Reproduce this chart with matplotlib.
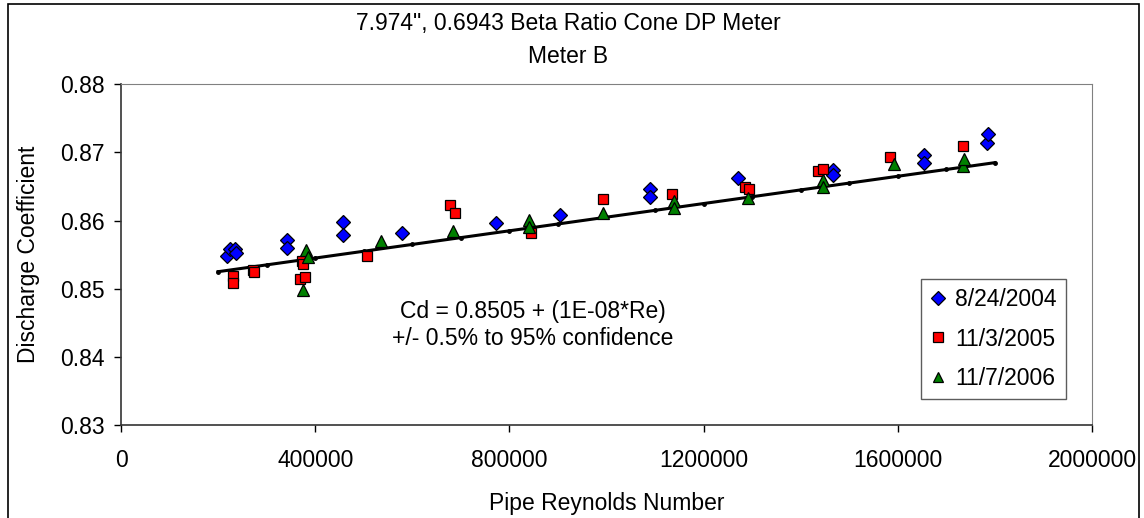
import matplotlib.pyplot as plt
from matplotlib.patches import Rectangle

plt.rcParams['font.family'] = ['Liberation Sans', 'DejaVu Sans']

# 8/24/2004
re_2004 = [219000, 224500, 234800, 236900, 341000, 341000, 458000, 458000, 578000, 772000,
           904000, 1089600, 1089600, 1271000, 1466000, 1466000, 1655000, 1655000, 1783000, 1786000]
cd_2004 = [0.8548, 0.8559, 0.8558, 0.8552, 0.8571, 0.8560, 0.8598, 0.8579, 0.8582, 0.8596,
           0.8608, 0.8646, 0.8635, 0.8663, 0.8674, 0.8667, 0.8696, 0.8684, 0.8714, 0.8727]

# 11/3/2005
re_2005 = [231000, 231000, 271000, 274000, 369000, 372000, 375000, 379000, 506000, 677600,
           688000, 844000, 993500, 1134000, 1285000, 1294000, 1436000, 1445000, 1584000, 1734000]
cd_2005 = [0.8519, 0.8509, 0.8527, 0.8525, 0.8515, 0.8540, 0.8536, 0.8517, 0.8548, 0.8623,
           0.8611, 0.8582, 0.8631, 0.8639, 0.8650, 0.8647, 0.8673, 0.8675, 0.8694, 0.8709]

# 11/7/2006
re_2006 = [375000, 382000, 386000, 535500, 684500, 841000, 841000, 992000, 1139000, 1139000,
           1292000, 1445000, 1445000, 1592000, 1734000, 1736000]
cd_2006 = [0.8498, 0.8557, 0.8547, 0.8570, 0.8584, 0.8601, 0.8591, 0.8611, 0.8628, 0.8619,
           0.8633, 0.8659, 0.8650, 0.8683, 0.8680, 0.8690]

# линия аппроксимации
re_fit = [200000, 300000, 400000, 500000, 600000, 700000, 800000, 900000, 1000000,
          1100000, 1200000, 1300000, 1400000, 1500000, 1600000, 1700000, 1800000]
cd_fit = [0.8525, 0.8535, 0.8545, 0.8555, 0.8565, 0.8575, 0.8585, 0.8595, 0.8605,
          0.8615, 0.8625, 0.8635, 0.8645, 0.8655, 0.8665, 0.8675, 0.8685]

x_ticks = [0, 400000, 800000, 1200000, 1600000, 2000000]
y_ticks = [0.83, 0.84, 0.85, 0.86, 0.87, 0.88]

fs = 16.5

fig = plt.figure(figsize=(11.44, 5.18), dpi=100)
ax = fig.add_axes([0.1058, 0.1795, 0.8487, 0.6578])

ax.plot(re_fit, cd_fit, color='black', linewidth=2.2, marker='o', markersize=2.5, zorder=2)

ax.plot(re_2004, cd_2004, linestyle='none', marker='D', markersize=7.5, color='#0000FF',
        markeredgecolor='black', markeredgewidth=0.9, label='8/24/2004', zorder=3)
ax.plot(re_2005, cd_2005, linestyle='none', marker='s', markersize=7.5, color='#FF0000',
        markeredgecolor='black', markeredgewidth=0.9, label='11/3/2005', zorder=3)
ax.plot(re_2006, cd_2006, linestyle='none', marker='^', markersize=8.5, color='#008000',
        markeredgecolor='black', markeredgewidth=0.9, label='11/7/2006', zorder=3)

ax.set_xlim(0, 2000000)
ax.set_ylim(0.83, 0.88)
ax.set_xticks(x_ticks)
ax.set_xticklabels([str(v) for v in x_ticks])
ax.set_yticks(y_ticks)
ax.set_yticklabels([f'{v:.2f}' for v in y_ticks])
ax.tick_params(direction='out', length=5, width=1, labelsize=fs)
ax.tick_params(axis='y', pad=7)
ax.tick_params(axis='x', pad=12)

for side in ['top', 'right']:
    ax.spines[side].set_color('#808080')
for side in ['left', 'bottom']:
    ax.spines[side].set_color('#333333')
    ax.spines[side].set_linewidth(1.2)

ax.set_xlabel('Pipe Reynolds Number', fontsize=fs, labelpad=15)
ax.set_ylabel('Discharge Coefficient', fontsize=fs, labelpad=14)

ax.text(848000, 0.8447, 'Cd = 0.8505 + (1E-08*Re)\n+/- 0.5% to 95% confidence',
        ha='center', va='center', fontsize=fs, linespacing=1.25)

fig.text(0.4965, 0.9546, '7.974", 0.6943 Beta Ratio Cone DP Meter', ha='center', va='center', fontsize=fs)
fig.text(0.4965, 0.89, 'Meter B', ha='center', va='center', fontsize=fs)

leg = ax.legend(loc='upper left', bbox_to_anchor=(0.805, 0.4608), bbox_transform=fig.transFigure,
                fontsize=fs, frameon=True, fancybox=False, edgecolor='#333333', markerscale=0.9,
                handlelength=0.7, handletextpad=0.4, borderpad=0.4, labelspacing=0.7,
                borderaxespad=0)
leg.get_frame().set_linewidth(1)

# рамка вокруг диаграммы
fig.patches.append(Rectangle((8 / 1144, -0.1), 1131 / 1144, 1.1 - 4 / 518, transform=fig.transFigure,
                             fill=False, edgecolor='black', linewidth=1.2))

fig.savefig('out.png', dpi=100)
